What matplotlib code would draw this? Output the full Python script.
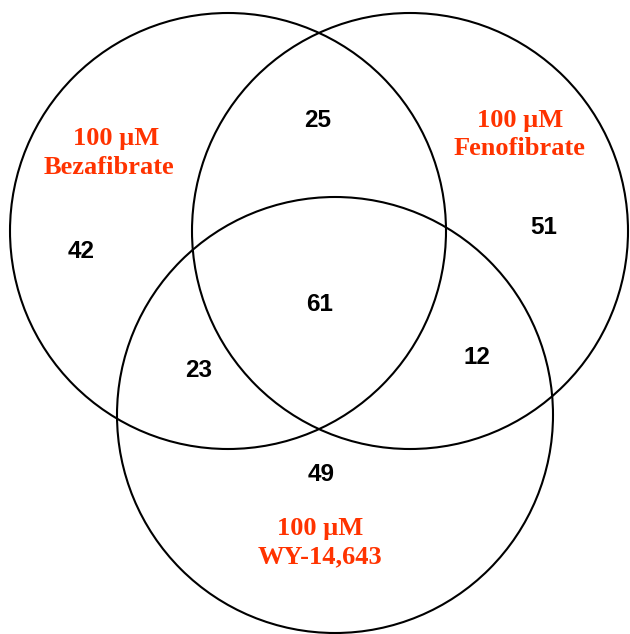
import matplotlib.pyplot as plt
from matplotlib.patches import Circle

# region counts of the three-way Venn diagram
regions = ["Beza only", "Feno only", "WY only", "Beza+Feno", "Beza+WY", "Feno+WY", "all"]
counts = [42, 51, 49, 25, 23, 12, 61]
set_labels = [["100 \u00b5M", "Bezafibrate"],
              ["100 \u00b5M", "Fenofibrate"],
              ["100 \u00b5M", "WY-14,643"]]

# layout in pixel coordinates (y down)
circles = [(228, 231, 218), (410, 231, 218), (335, 415, 218)]
count_pos = [(81, 258), (544, 234), (321, 481), (318, 127), (199, 377), (477, 364), (320, 311)]
label_pos = [[(116, 145), (109, 174)],
             [(520, 127), (519, 155)],
             [(320, 535), (320, 563)]]

fig = plt.figure(figsize=(6.30, 6.34), dpi=100)
ax = fig.add_axes([0, 0, 1, 1])
ax.set_xlim(0, 630)
ax.set_ylim(634, 0)
ax.set_aspect("equal")
ax.axis("off")

for cx, cy, r in circles:
    ax.add_patch(Circle((cx, cy), r, fill=False, edgecolor="black", linewidth=1.5))

for n, (x, y) in zip(counts, count_pos):
    ax.text(x, y, str(n), ha="center", va="baseline", fontsize=17.5,
            fontweight="bold", family="Liberation Sans")

for lines, positions in zip(set_labels, label_pos):
    for line, (x, y) in zip(lines, positions):
        ax.text(x, y, line, ha="center", va="baseline", fontsize=19,
                fontweight="bold", family="Liberation Serif", color="#ff3300")

fig.savefig("out.png", dpi=100)
